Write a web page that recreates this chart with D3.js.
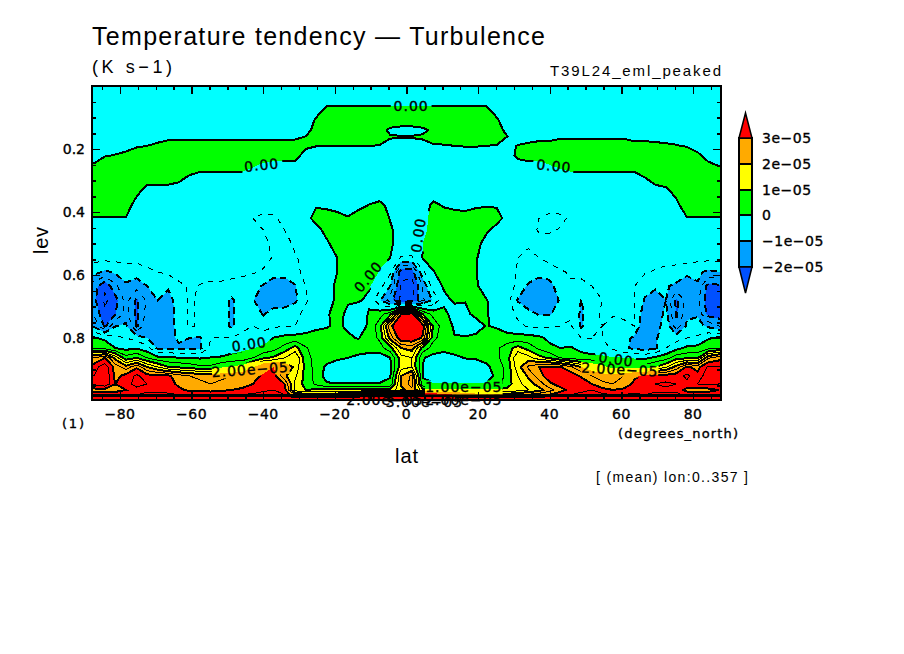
<!DOCTYPE html>
<html lang="en">
<head>
<meta charset="utf-8">
<title>Temperature tendency - Turbulence</title>
<style>
  body { margin: 0; background: #fff; }
  svg { display: block; }
  text { fill: #000; }
  .stroke { font-family: "Liberation Sans", sans-serif; }
  .heavy { font-family: "DejaVu Sans", sans-serif; stroke: #000; stroke-width: 0.35px; }
</style>
</head>
<body>
<script src="https://cdn.jsdelivr.net/npm/d3@7"></script>
<script>
// ===================================
// DATA (values in 1e-5 K/s)
// ===================================
var lats = [-87.16,-84.21,-81.26,-78.3,-75.35,-72.4,-69.45,-66.5,-63.55,-60.6,
  -57.65,-54.7,-51.75,-48.8,-45.85,-42.9,-39.95,-37,-34.05,-31.1,
  -28.15,-25.2,-22.25,-19.3,-16.35,-13.4,-10.45,-7.5,-4.55,-1.48,
  1.48,4.55,7.5,10.45,13.4,16.35,19.3,22.25,25.2,28.15,
  31.1,34.05,37,39.95,42.9,45.85,48.8,51.75,54.7,57.65,
  60.6,63.55,66.5,69.45,72.4,75.35,78.3,81.26,84.21,87.16];

var levs = [0.02,0.05,0.08,0.11,0.14,0.16,0.19,0.22,0.25,0.29,0.337,0.38,0.42,0.457,0.5,
  0.546,0.59,0.635,0.68,0.724,0.762,0.8,0.832,0.863,0.892,0.92,0.946,0.965,0.98,0.994];

var tendency = [
[-.2,-.2,-.2,-.2,-.2,-.2,-.2,-.2,-.2,-.2, -.2,-.2,-.2,-.2,-.2,-.2,-.2,-.2,-.2,-.2, -.2,-.2,-.2,-.2,-.2,-.2,-.2,-.2,-.2,-.2, -.2,-.2,-.2,-.2,-.2,-.2,-.2,-.2,-.2,-.2, -.2,-.2,-.2,-.2,-.2,-.2,-.2,-.2,-.2,-.2, -.2,-.2,-.2,-.2,-.2,-.2,-.2,-.2,-.2,-.2],
[-.2,-.2,-.2,-.2,-.2,-.2,-.2,-.2,-.2,-.2, -.2,-.2,-.2,-.2,-.2,-.2,-.2,-.2,-.2,-.2, -.2,-.2,-.2,-.2,-.2,-.2,-.2,-.2,-.2,-.2, -.2,-.2,-.2,-.2,-.2,-.2,-.2,-.2,-.2,-.2, -.2,-.2,-.2,-.2,-.2,-.2,-.2,-.2,-.2,-.2, -.2,-.2,-.2,-.2,-.2,-.2,-.2,-.2,-.2,-.2],
[-.2,-.2,-.2,-.2,-.2,-.2,-.2,-.2,-.2,-.2, -.2,-.2,-.2,-.2,-.2,-.2,-.2,-.2,-.2,-.2, -.2,-.2,.2,.2,.2,.2,.2,.2,.2,.2, .2,.2,.2,.2,.2,.2,.2,.2,-.2,-.2, -.2,-.2,-.2,-.2,-.2,-.2,-.2,-.2,-.2,-.2, -.2,-.2,-.2,-.2,-.2,-.2,-.2,-.2,-.2,-.2],
[-.2,-.2,-.2,-.2,-.2,-.2,-.2,-.2,-.2,-.2, -.2,-.2,-.2,-.2,-.2,-.2,-.2,-.2,-.2,-.2, -.4,.1,.3,.3,.3,.3,.3,.3,.3,.3, .3,.3,.3,.3,.3,.3,.3,.3,.1,-.4, -.2,-.2,-.2,-.2,-.2,-.2,-.2,-.2,-.2,-.2, -.2,-.2,-.2,-.2,-.2,-.2,-.2,-.2,-.2,-.2],
[-.2,-.2,-.2,-.2,-.2,-.2,-.2,-.2,-.2,-.2, -.2,-.2,-.2,-.2,-.2,-.2,-.2,-.2,-.2,-.2, -.2,.2,.2,.2,.2,.2,.2,.2,-.1,-.2, -.2,-.1,.1,.3,.3,.3,.3,.3,.3,-.2, -.2,-.2,-.2,-.2,-.2,-.2,-.2,-.2,-.2,-.2, -.2,-.2,-.2,-.2,-.2,-.2,-.2,-.2,-.2,-.2],
[-.2,-.2,-.2,-.2,-.1,-.1,-.1,-.1,-.1,-.1, -.1,-.1,-.1,-.1,-.1,-.1,-.1,-.1,-.1,-.1, 0,.2,.2,.2,.2,.2,.2,.2,.03,.02, .02,.05,.2,.2,.2,.2,.2,.2,.2,0, -.2,-.2,-.15,-.15,-.05,-.05,-.05,-.05,-.05,-.05, -.05,-.15,-.15,-.15,-.15,-.15,-.15,-.15,-.15,-.15],
[-.3,-.3,-.2,-.15,-.05,0,.05,.15,.15,.15, .15,.15,.15,.15,.15,.15,.15,.15,.15,.2, .1,.01,.01,.01,.01,.01,.01,-.02,-.1,-.1, -.1,-.1,-.05,-.03,0,.02,.02,0,-.02,-.1, .02,.1,.15,.15,.15,.15,.15,.15,.15,.15, .15,.15,.15,.1,.06,.02,-.03,-.1,-.2,-.3],
[-.1,-.04,.02,.1,.25,.25,.25,.25,.25,.25, .25,.25,.25,.25,.25,.25,.25,.25,.25,.2, -.2,-.2,-.2,-.2,-.2,-.2,-.2,-.2,-.2,-.2, -.2,-.2,-.2,-.2,-.2,-.2,-.2,-.2,-.2,-.2, .1,.25,.25,.25,.25,.25,.25,.25,.25,.25, .25,.25,.25,.25,.25,.25,.25,.05,-.1,-.2],
[.02,.25,.25,.25,.25,.25,.25,.25,.25,.25, .25,.25,.25,.25,.25,.06,-.05,-.15,-.15,-.15, -.15,-.15,-.15,-.15,-.15,-.15,-.15,-.15,-.15,-.15, -.15,-.15,-.15,-.15,-.15,-.15,-.15,-.15,-.15,-.15, -.15,-.15,-.15,0,.1,.25,.25,.25,.25,.25, .25,.25,.25,.25,.25,.25,.25,.15,.05,-.02],
[.2,.2,.2,.2,.2,.2,.2,.2,.1,-.05, -.2,-.2,-.2,-.2,-.2,-.2,-.2,-.2,-.2,-.2, -.2,-.2,-.2,-.2,-.2,-.2,-.2,-.2,-.2,-.2, -.2,-.2,-.2,-.2,-.2,-.2,-.2,-.2,-.2,-.2, -.2,-.2,-.2,-.2,-.2,-.2,-.2,-.2,-.2,-.2, -.2,-.2,0,.2,.2,.2,.2,.2,.2,.2],
[.2,.2,.2,.2,.1,-.2,-.2,-.2,-.2,-.2, -.2,-.2,-.2,-.2,-.2,-.2,-.2,-.2,-.2,-.2, -.2,-.2,-.2,-.2,-.2,-.2,-.2,-.2,-.2,-.2, -.2,-.2,-.2,-.2,-.2,-.2,-.2,-.2,-.2,-.2, -.2,-.2,-.2,-.2,-.2,-.2,-.2,-.2,-.2,-.2, -.2,-.2,-.2,-.2,-.1,.1,.2,.2,.2,.2],
[.2,.2,.2,.2,-.2,-.2,-.2,-.2,-.2,-.2, -.2,-.2,-.2,-.2,-.2,-.2,-.2,-.2,-.2,-.2, -.2,-.02,-.08,-.2,-.3,-.1,.02,.1,-.1,-.2, -.2,-.2,.1,-.03,-.1,-.15,-.05,-.02,-.02,-.2, -.2,-.2,-.2,-.2,-.2,-.2,-.2,-.2,-.2,-.2, -.2,-.2,-.2,-.2,-.2,-.1,.2,.2,.2,.2],
[-.02,-.02,-.02,-.02,-.2,-.2,-.2,-.2,-.2,-.2, -.2,-.2,-.2,-.2,-.25,-.5,-.7,-.6,-.3,-.3, -.1,.1,.2,.2,.05,.2,.2,.2,-.02,-.2, -.2,-.1,.1,.2,.2,.2,.2,.2,.1,-.1, -.2,-.25,-.5,-.7,-.65,-.4,-.2,-.2,-.2,-.2, -.2,-.2,-.2,-.2,-.2,-.2,-.02,-.02,-.02,-.02],
[-.2,-.2,-.2,-.2,-.2,-.2,-.2,-.2,-.2,-.2, -.2,-.2,-.2,-.2,-.25,-.3,-.5,-.7,-.5,-.3, -.2,-.1,.1,.3,.3,.3,.3,.3,.05,-.15, -.2,-.1,.15,.3,.3,.3,.3,.05,-.1,-.2, -.2,-.3,-.55,-.6,-.45,-.3,-.2,-.2,-.2,-.2, -.2,-.2,-.2,-.2,-.2,-.2,-.2,-.2,-.2,-.2],
[-.2,-.2,-.2,-.2,-.2,-.2,-.2,-.2,-.2,-.2, -.2,-.2,-.2,-.2,-.2,-.3,-.4,-.6,-.7,-.4, -.25,-.2,-.05,.15,.3,.3,.3,.3,.05,-.15, -.2,0,.2,.3,.3,.3,.1,-.1,-.2,-.2, -.25,-.45,-.3,-.2,-.2,-.2,-.2,-.2,-.2,-.2, -.2,-.2,-.2,-.2,-.2,-.2,-.2,-.2,-.2,-.2],
[-.35,-.35,-.35,-.35,-.35,-.3,-.25,-.25,-.25,-.25, -.2,-.2,-.2,-.2,-.2,-.2,-.35,-.55,-.7,-.55, -.35,-.25,-.2,0,.3,.3,.3,.1,0,-.55, -.55,.02,.2,.3,.3,.2,.02,-.1,-.2,-.3, -.5,-.6,-.5,-.3,-.25,-.25,-.25,-.25,-.25,-.25, -.25,-.25,-.25,-.25,-.25,-.3,-.3,-.35,-.35,-.35],
[-.8,-1.1,-.9,-.7,-.75,-.6,-.5,-.4,-.3,-.3, -.35,-.4,-.4,-.4,-.42,-.45,-.55,-.8,-.8,-.6, -.4,-.3,-.2,0,.3,.3,.2,-.02,-.4,-2.3, -2.3,-.6,-.02,.2,.3,.3,.02,-.2,-.2,-.3, -.55,-.6,-.8,-.8,-.55,-.45,-.45,-.45,-.45,-.45, -.45,-.45,-.45,-.55,-.7,-.7,-.8,-.9,-1.1,-1],
[-1.8,-2.4,-1.6,-1.1,-1.3,-1,-.7,-.9,-.6,-.45, -.52,-.55,-.55,-.6,-.65,-.8,-1.05,-1.3,-1.3,-1.05, -.5,-.3,-.2,.1,.3,.3,.05,-.3,-1,-2.6, -2.8,-1.4,-.25,.05,.3,.3,.05,-.15,-.2,-.3, -.6,-1.1,-1.3,-1.15,-.75,-.55,-.55,-.5,-.48,-.45, -.5,-.48,-.8,-.9,-.95,-1.1,-1.5,-1.05,-2.2,-2.1],
[-1.9,-2.6,-2.2,-1.3,-2.1,-1.4,-1,-1.25,-.7,-.45, -.55,-.55,-.7,-1.1,-.7,-.95,-1.4,-1.5,-1.5,-1.1, -.55,-.3,-.2,.1,.05,.05,-.1,-.9,-1.8,-2.6, -2.6,-1.6,-.9,-.1,.05,.02,.15,.02,-.15,-.3, -1.05,-1.4,-1.4,-1.3,-.95,-.55,-1.02,-.6,-.5,-.5, -.45,-.45,-1.05,-1.3,-1,-2.1,-1.3,-1.4,-2.3,-2.3],
[-1.6,-2.4,-2,-1.3,-2.1,-1.3,-1.02,-1.4,-.7,-.45, -.55,-.55,-.7,-1.1,-.7,-.65,-1.05,-.6,-.55,-.6, -.4,-.2,-.05,.15,-.1,-.3,.05,.3,.8,3, 3.3,1,.3,.1,-.15,-.1,.1,.05,-.2,-.3, -.6,-.8,-1.05,-1.05,-.75,-.55,-1.1,-.6,-.45,-.45, -.42,-.5,-1.3,-1.5,-.8,-2.1,-1.1,-1.05,-2.2,-2.3],
[-1.1,-2.1,-1.02,-.9,-2.1,-1.1,-1.1,-1.4,-.7,-.45, -.55,-.6,-.7,-1.1,-.6,-.5,-.7,-.55,-.55,-.5, -.3,-.1,-.02,.05,-.05,-.3,.1,.8,2.9,3.45, 3.45,3.3,.9,.2,-.05,-.3,-.2,.02,-.05,-.2, -.4,-.55,-.6,-.55,-.5,-.45,-1.1,-.6,-.5,-.7, -.6,-.5,-1.5,-1.4,-.6,-1.8,-.9,-.85,-1.1,-1.5],
[.05,-.1,-.4,-.5,-.7,-1,-1.1,-1.2,-.9,-1, -1.05,-.5,-.48,-.5,-.4,-.35,-.2,.02,.15,.2, .2,.2,.1,.1,.05,-.02,.2,.6,2.2,3.4, 3.45,2.9,.6,.3,.02,.05,.1,.15,.2,.15, .2,.2,.1,-.1,-.2,-.3,-.5,-.5,-.5,-.9, -.8,-1.1,-1.3,-1.1,-.6,-.7,-.5,-.4,-.05,.1],
[.5,.3,0,-.15,-.05,-.3,-1.1,-1.05,-1.1,-1.1, -1.1,-.4,-.3,-.2,-.1,-.02,.1,.3,.7,1.2, .55,.3,.2,.2,.2,.2,.2,.3,.8,2, 2.2,.8,.3,.2,.2,.2,.2,.3,.4,.8, 1.2,.8,.4,.1,0,.05,-.15,-.25,-.3,-.6, -.9,-1.1,-1.2,-1.1,-.5,-.15,.1,.15,.3,.5],
[2.5,3,1.8,.7,1,.5,.15,.1,.02,-.02, -.05,.02,.05,.15,.2,.5,.9,1.1,1.5,2, .7,.3,.2,.1,0,-.1,-.2,-.3,-.02,1.3, 1.5,.05,-.2,-.3,-.1,.02,.05,.15,.4,.8, 2,1.7,1.2,.9,.5,.3,.2,.15,.1,.05, .02,-.05,-.1,.1,.3,.8,.9,.9,2.4,2.8],
[3.3,3.8,2.8,2.2,2.9,2,1.5,1,.9,.8, .6,.6,.9,1.1,1.2,1.9,2.7,3,2.4,1.9, .8,.3,-.1,-.3,-.3,-.3,-.3,-.3,-.1,1.3, 1.5,-.02,-.3,-.3,-.3,-.3,-.3,-.1,.2,.7, 1.8,2.6,3,3.1,3.05,2.6,2,1.6,1.2,.8, .7,.6,.7,1,1.4,2.2,3.1,2.8,3.6,3.5],
[3.5,4,2.8,3.2,3.6,3.2,3.1,3.1,2.7,2.5, 2.4,2.3,2.4,2.5,2.6,2.8,3.1,3.2,2.1,1.6, .8,.3,-.2,-.35,-.35,-.35,-.35,-.35,-.05,2, 2.6,-.05,-.35,-.35,-.35,-.35,-.35,-.3,.15,.7, 1.5,2.1,2.8,3.3,3.5,3.3,2.9,2.5,2.3,2.3, 2.5,2.9,3.1,3.2,3.2,3.3,3.6,3.2,3.8,3.7],
[3.6,3.9,3,3.3,3.7,3.5,3.3,3.2,2.9,2.7, 2.6,2.5,2.6,2.7,2.8,3,3.2,3.3,3,1.4, .8,.4,.05,.05,.05,.05,.05,.05,.15,2.1, 2.7,.15,.05,.05,.05,.05,.05,.05,.2,.8, 1.3,1.8,2.2,2.9,3.2,3.4,3.4,3,2.6,2.5, 2.7,3.1,3.4,3.5,3.6,3.5,3.4,3.5,3.6,3.5],
[2.8,2.8,2.8,3,3.3,3.4,3.4,3.3,3.1,2.9, 2.9,2.8,2.9,3,3.1,3.2,3.4,3.5,3.2,1.3, 1,1.1,1.1,1.1,1.1,1.1,1.1,1.1,1.2,1.8, 2.4,1.2,1.1,1.1,1.1,1.1,1.1,1.1,1.1,1.1, 1.3,1.5,1.8,2.3,2.8,3.2,3.4,3.5,3.2,3, 3.1,3.3,3.2,3.4,3.4,3.4,2.8,2.8,2.8,3],
[3.2,3.3,3.3,3.4,3.5,3.6,3.6,3.6,3.5,3.4, 3.4,3.4,3.4,3.5,3.5,3.6,3.7,3.7,3.5,2.5, 2.2,2.2,2.2,2.3,2.5,2.8,3.4,4,4,4, 4,4,3.8,3.4,3,2.6,2.3,2.2,2.2,2.2, 2.4,2.6,2.8,3,3.3,3.5,3.6,3.7,3.6,3.5, 3.5,3.6,3.5,3.6,3.6,3.6,3.4,3.3,3.3,3.3],
[8,8,8,8,8,8,8,8,8,8, 8,8,8,8,8,8,8,8,8,8, 8,8,8,8,8,8,8,8,8,8, 8,8,8,8,8,8,8,8,8,8, 8,8,8,8,8,8,8,8,8,8, 8,8,8,8,8,8,8,8,8,8]
];

var fillLevels = [-2, -1, 0, 1, 2, 3];
var fillColors = ["#0050ff", "#00a0ff", "#00ffff", "#00ff00", "#ffff00", "#ffaa00", "#ff0000"];
var lineLevels = [-3, -2.5, -2, -1.5, -1, -0.5, 0, 0.5, 1, 1.5, 2, 2.5, 3, 3.5, 4, 4.5, 5];

var latTicks = [-80, -60, -40, -20, 0, 20, 40, 60, 80];
var latMinorTicks = d3.range(-85, 86, 5);
var levTicks = [0.2, 0.4, 0.6, 0.8];
var levMinorTicks = [0.05, 0.1, 0.15, 0.25, 0.3, 0.35, 0.45, 0.5, 0.55, 0.65, 0.7, 0.75, 0.85, 0.9, 0.95];
var legendLabels = ["3e\u221205", "2e\u221205", "1e\u221205", "0", "\u22121e\u221205", "\u22122e\u221205"];

// contour labels: text, lat, lev, angle
var contourLabels = [
  ["0.00", 1.3, 0.064, 0],
  ["0.00", -40.3, 0.251, -6],
  ["0.00", 41, 0.254, 6],
  ["0.00", 4.7, 0.46, -82],
  ["0.00", -9.6, 0.6, -50],
  ["0.00", -43.7, 0.82, -8],
  ["0.00", 58.3, 0.868, 8],
  ["2.00e\u221205", -43.5, 0.9, -4],
  ["2.00e\u221205", 59.5, 0.9, 3],
  ["1.00e\u221205", 16, 0.957, 0],
  ["2.00e\u221205", -6, 0.997, 0],
  ["3.00e\u221205", 5, 1.002, 0],
  ["2.00e\u221205", 16, 0.998, 0]
];

// ===================================
// SCALES
// ===================================
var width = 904, height = 654;
var plot = { left: 92, right: 721, top: 86, bottom: 400 };

var x = d3.scaleLinear().domain([-87.8, 87.8]).range([plot.left, plot.right]);
var y = d3.scaleLinear().domain([0, 1]).range([86, 401]);

var svg = d3.select("body").append("svg")
  .attr("width", width)
  .attr("height", height);

// ===================================
// CONTOURS
// ===================================
// one extra row and column past each edge so the rings close outside the frame
var gridLats = [-92].concat(lats, [92]);
var gridLevs = [-0.04].concat(levs, [1.04]);
var nx = gridLats.length, ny = gridLevs.length;
var grid = [];
for (var j = 0; j < ny; j++) {
  var row = tendency[Math.max(0, Math.min(levs.length - 1, j - 1))];
  for (var i = 0; i < nx; i++) {
    grid.push(row[Math.max(0, Math.min(lats.length - 1, i - 1))]);
  }
}

// contour coordinates have grid points at i + 0.5
var colToPx = d3.scaleLinear()
  .domain(gridLats.map(function(d, i) { return i + 0.5; }))
  .range(gridLats.map(function(d) { return x(d); }));
var rowToPx = d3.scaleLinear()
  .domain(gridLevs.map(function(d, i) { return i + 0.5; }))
  .range(gridLevs.map(function(d) { return y(d); }));

var path = d3.geoPath(d3.geoTransform({
  point: function(px, py) { this.stream.point(colToPx(px), rowToPx(py)); }
}));

var contours = d3.contours().size([nx, ny]);

var defs = svg.append("defs");
defs.append("clipPath").attr("id", "plot-clip").append("rect")
  .attr("x", plot.left).attr("y", plot.top)
  .attr("width", plot.right - plot.left).attr("height", plot.bottom - plot.top);

// line breaks under the contour labels
var mask = defs.append("mask").attr("id", "label-gaps").attr("maskUnits", "userSpaceOnUse")
  .attr("x", 0).attr("y", 0).attr("width", width).attr("height", height);
mask.append("rect").attr("width", width).attr("height", height).attr("fill", "#fff");
mask.selectAll("rect.gap")
  .data(contourLabels.filter(function(d) { return d[2] < 0.99; }))
  .enter().append("rect")
  .attr("class", "gap")
  .attr("x", function(d) { return -d[0].length * 4.6 - 2; })
  .attr("y", -7)
  .attr("width", function(d) { return d[0].length * 9.2 + 4; })
  .attr("height", 14)
  .attr("fill", "#000")
  .attr("transform", function(d) {
    return "translate(" + x(d[1]) + "," + y(d[2]) + ") rotate(" + d[3] + ")";
  });

var field = svg.append("g").attr("clip-path", "url(#plot-clip)");

field.append("rect")
  .attr("x", plot.left).attr("y", plot.top)
  .attr("width", plot.right - plot.left).attr("height", plot.bottom - plot.top)
  .attr("fill", fillColors[0]);

field.selectAll("path.fill")
  .data(contours.thresholds(fillLevels)(grid))
  .enter().append("path")
  .attr("class", "fill")
  .attr("d", path)
  .attr("fill", function(d, i) { return fillColors[i + 1]; })
  .attr("shape-rendering", "crispEdges");

field.append("g").attr("mask", "url(#label-gaps)")
  .selectAll("path.line")
  .data(contours.thresholds(lineLevels)(grid))
  .enter().append("path")
  .attr("class", "line")
  .attr("d", path)
  .attr("fill", "none")
  .attr("stroke", "#000")
  .attr("stroke-width", function(d) { return d.value % 1 === 0 ? 2 : 1; })
  .attr("stroke-dasharray", function(d) {
    if (d.value >= 0) return null;
    return d.value % 1 === 0 ? "7,4" : "5,6";
  })
  .attr("shape-rendering", "crispEdges");

// ===================================
// AXES
// ===================================
function styleAxis(g) {
  g.select(".domain").remove();
  g.selectAll("line").attr("stroke", "#000").attr("stroke-width", 1.5).attr("shape-rendering", "crispEdges");
}

function addAxis(axisFn, scale, ticks, size, tx, ty) {
  svg.append("g")
    .attr("transform", "translate(" + tx + "," + ty + ")")
    .call(axisFn(scale).tickValues(ticks).tickSize(-size).tickFormat(""))
    .call(styleAxis);
}

[[latMinorTicks, 4], [latTicks, 8]].forEach(function(t) {
  addAxis(d3.axisBottom, x, t[0], t[1], 0, plot.bottom);
  addAxis(d3.axisTop, x, t[0], t[1], 0, plot.top);
});
[[levMinorTicks, 4], [levTicks, 8]].forEach(function(t) {
  addAxis(d3.axisLeft, y, t[0], t[1], plot.left, 0);
  addAxis(d3.axisRight, y, t[0], t[1], plot.right, 0);
});

svg.append("rect")
  .attr("x", plot.left).attr("y", plot.top)
  .attr("width", plot.right - plot.left).attr("height", plot.bottom - plot.top)
  .attr("fill", "none").attr("stroke", "#000").attr("stroke-width", 2)
  .attr("shape-rendering", "crispEdges");

svg.selectAll("text.lat-tick")
  .data(latTicks)
  .enter().append("text")
  .attr("class", "heavy lat-tick")
  .attr("x", function(d) { return x(d); })
  .attr("y", 419)
  .attr("text-anchor", "middle")
  .attr("font-size", 14)
  .attr("letter-spacing", 0.5)
  .text(function(d) { return d < 0 ? "\u2212" + (-d) : d; });

svg.selectAll("text.lev-tick")
  .data(levTicks)
  .enter().append("text")
  .attr("class", "heavy lev-tick")
  .attr("x", 85)
  .attr("y", function(d) { return y(d) + 5; })
  .attr("text-anchor", "end")
  .attr("font-size", 14)
  .text(function(d) { return d.toFixed(1); });

// ===================================
// CONTOUR LABELS
// ===================================
svg.selectAll("text.contour-label")
  .data(contourLabels)
  .enter().append("text")
  .attr("class", "heavy contour-label")
  .attr("text-anchor", "middle")
  .attr("font-size", 14)
  .attr("letter-spacing", 1)
  .attr("transform", function(d) {
    return "translate(" + x(d[1]) + "," + (y(d[2]) + 5) + ") rotate(" + d[3] + ")";
  })
  .text(function(d) { return d[0]; });

// ===================================
// COLOUR BAR
// ===================================
var barX = 739, barW = 13;
var barY = d3.scalePoint()
  .domain(legendLabels)
  .range([138, 267]);
var tipHeight = 25;

var bar = svg.append("g");
// boxes run between the labelled levels, top box is 2e-05..3e-05
var barColors = fillColors.slice().reverse();
bar.selectAll("rect")
  .data(legendLabels.slice(0, 5))
  .enter().append("rect")
  .attr("x", barX)
  .attr("y", function(d) { return barY(d); })
  .attr("width", barW)
  .attr("height", barY.step())
  .attr("fill", function(d, i) { return barColors[i + 1]; })
  .attr("stroke", "#000")
  .attr("stroke-width", 2)
  .attr("shape-rendering", "crispEdges");

var barTop = barY(legendLabels[0]);
var barBottom = barY(legendLabels[5]);
bar.append("path")
  .attr("d", d3.line()([[barX, barTop], [barX + barW / 2, barTop - tipHeight], [barX + barW, barTop]]) + "Z")
  .attr("fill", barColors[0]).attr("stroke", "#000").attr("stroke-width", 1.5);
bar.append("path")
  .attr("d", d3.line()([[barX, barBottom], [barX + barW / 2, barBottom + tipHeight + 1], [barX + barW, barBottom]]) + "Z")
  .attr("fill", barColors[6]).attr("stroke", "#000").attr("stroke-width", 1.5);

svg.selectAll("text.bar-label")
  .data(legendLabels)
  .enter().append("text")
  .attr("class", "heavy bar-label")
  .attr("x", 762)
  .attr("y", function(d) { return barY(d) + 5; })
  .attr("font-size", 14)
  .attr("letter-spacing", 0.5)
  .text(function(d) { return d; });

// ===================================
// TITLES
// ===================================
function label(cls, txt, px, py, size, len) {
  var t = svg.append("text")
    .attr("class", cls)
    .attr("x", px).attr("y", py)
    .attr("font-size", size)
    .text(txt);
  if (len) t.attr("textLength", len).attr("lengthAdjust", "spacing");
  return t;
}

label("stroke", "Temperature tendency \u2014 Turbulence", 92, 45, 25, 453);
label("stroke", "(K s\u22121)", 92, 73, 18, 80);
label("stroke", "T39L24_eml_peaked", 550, 76, 15, 171);
label("stroke", "lat", 395, 463, 20, 23);
label("stroke", "[ (mean) lon:0..357 ]", 596, 482, 14, 152);
label("heavy", "(1)", 62, 428, 13, 22);
label("heavy", "(degrees_north)", 618, 438, 13, 120);
label("stroke", "lev", 0, 0, 20, 27)
  .attr("transform", "translate(48,254) rotate(-90)");
</script>
</body>
</html>
